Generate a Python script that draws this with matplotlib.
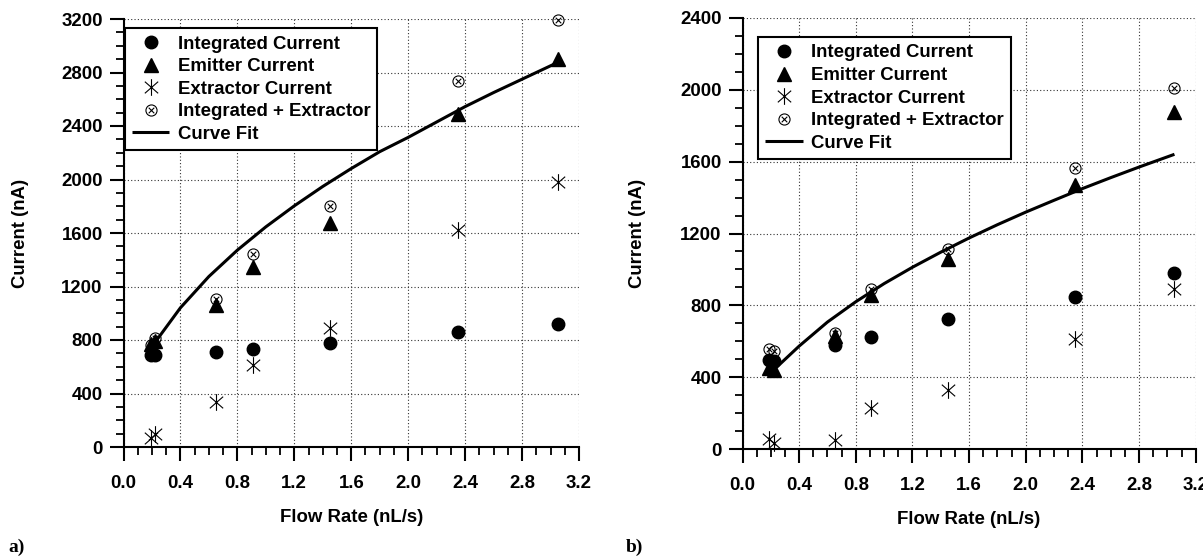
import matplotlib
matplotlib.use("Agg")
import matplotlib.pyplot as plt
from matplotlib.path import Path
from matplotlib.ticker import MultipleLocator

# ---------------- data ----------------
flow_a = [0.19, 0.22, 0.65, 0.91, 1.45, 2.35, 3.05]
integrated_a = [690, 690, 712, 730, 780, 862, 920]
emitter_a = [770, 790, 1062, 1345, 1675, 2490, 2900]
extractor_a = [65, 100, 338, 612, 893, 1620, 1980]
int_plus_ext_a = [765, 815, 1110, 1440, 1805, 2735, 3195]
fit_x_a = [0.22, 0.4, 0.6, 0.8, 1.0, 1.2, 1.4, 1.6, 1.8, 2.0, 2.2, 2.4, 2.6, 2.8, 3.05]
fit_y_a = [780, 1041, 1275, 1472, 1646, 1803, 1948, 2082, 2208, 2315, 2430, 2545, 2650, 2750, 2875]

flow_b = [0.19, 0.22, 0.65, 0.91, 1.45, 2.35, 3.05]
integrated_b = [496, 490, 578, 622, 726, 845, 980]
emitter_b = [450, 440, 628, 860, 1060, 1470, 1879]
extractor_b = [55, 35, 50, 230, 326, 613, 889]
int_plus_ext_b = [555, 545, 645, 891, 1111, 1563, 2010]
fit_x_b = [0.22, 0.4, 0.6, 0.8, 1.0, 1.2, 1.4, 1.6, 1.8, 2.0, 2.2, 2.4, 2.6, 2.8, 3.05]
fit_y_b = [440, 573, 707, 820, 921, 1012, 1096, 1175, 1249, 1319, 1385, 1450, 1511, 1570, 1641]

x_ticks_step = 0.4
y_ticks_step = 400
series_labels = ["Integrated Current", "Emitter Current", "Extractor Current",
                 "Integrated + Extractor", "Curve Fit"]
panel_labels = ["a)", "b)"]
x_label = "Flow Rate (nL/s)"
y_label = "Current (nA)"

# ---------------- style ----------------
plt.rcParams["font.family"] = ["Liberation Sans", "DejaVu Sans"]
plt.rcParams["font.weight"] = "bold"
plt.rcParams["axes.labelweight"] = "bold"
FS = 13.4

# custom markers
otimes = Path.make_compound_path(
    Path.unit_circle(),
    Path([(-0.5, -0.5), (0.5, 0.5), (-0.5, 0.5), (0.5, -0.5)],
         [Path.MOVETO, Path.LINETO, Path.MOVETO, Path.LINETO]))
ast = Path([(0, -1), (0, 1), (-0.8, -0.7), (0.8, 0.7), (-0.8, 0.7), (0.8, -0.7)],
           [Path.MOVETO, Path.LINETO, Path.MOVETO, Path.LINETO, Path.MOVETO, Path.LINETO])

W, H = 1203, 558
fig = plt.figure(figsize=(W / 100, H / 100), dpi=100)
axA = fig.add_axes([123.5 / W, (H - 447) / H, 455.5 / W, 428 / H])
axB = fig.add_axes([742.5 / W, (H - 449) / H, 453.2 / W, 431 / H])


def draw(ax, flow, integ, emit, extr, ipe, fx, fy, ymax, leg_anchor):
    ax.plot(flow, integ, linestyle="none", marker="o", ms=9, color="black",
            label=series_labels[0], clip_on=False, zorder=3)
    ax.plot(flow, emit, linestyle="none", marker="^", ms=10.5, color="black",
            label=series_labels[1], clip_on=False, zorder=3)
    ax.plot(flow, extr, linestyle="none", marker=ast, ms=12, color="black",
            mew=0.8, label=series_labels[2], clip_on=False, zorder=3)
    ax.plot(flow, ipe, linestyle="none", marker=otimes, ms=8, color="black",
            mfc="none", mew=0.8, label=series_labels[3], clip_on=False, zorder=3)
    ax.plot(fx, fy, color="black", lw=2.2, label=series_labels[4],
            solid_capstyle="butt", zorder=4)

    ax.set_xlim(0, 3.2)
    ax.set_ylim(0, ymax)
    ax.xaxis.set_major_locator(MultipleLocator(x_ticks_step))
    ax.xaxis.set_minor_locator(MultipleLocator(0.1))
    ax.yaxis.set_major_locator(MultipleLocator(y_ticks_step))
    ax.yaxis.set_minor_locator(MultipleLocator(100))
    for s in ("top", "right"):
        ax.spines[s].set_visible(False)
    for s in ("left", "bottom"):
        ax.spines[s].set_linewidth(1.5)
    ax.tick_params(which="major", direction="out", length=10, width=1.5,
                   labelsize=FS)
    ax.tick_params(which="minor", direction="out", length=5.5, width=1.3)
    ax.tick_params(axis="x", which="major", pad=10.5)
    ax.tick_params(axis="y", which="major", pad=5)
    ax.grid(True, which="major", linestyle=(0, (1, 2)), linewidth=0.8,
            color="#333333")
    ax.set_axisbelow(True)

    ax.set_xlabel(x_label, fontsize=FS, fontweight="bold")
    ax.set_ylabel(y_label, fontsize=FS, fontweight="bold")

    leg = ax.legend(loc="upper left", bbox_to_anchor=leg_anchor,
                    borderaxespad=0, frameon=True, fancybox=False,
                    edgecolor="black", framealpha=1, handlelength=2.0,
                    handletextpad=0.45, labelspacing=0.3, borderpad=0.38,
                    prop=dict(size=FS, weight="bold"))
    leg.get_frame().set_linewidth(1.5)
    leg.set_zorder(10)


draw(axA, flow_a, integrated_a, emitter_a, extractor_a, int_plus_ext_a,
     fit_x_a, fit_y_a, 3200, (0.003, 0.978))
draw(axB, flow_b, integrated_b, emitter_b, extractor_b, int_plus_ext_b,
     fit_x_b, fit_y_b, 2400, (0.035, 0.955))

# axis label positions (axes coordinates)
axA.xaxis.set_label_coords(0.5, (447 - 517) / 428)
axA.xaxis.label.set_va("center")
axA.yaxis.set_label_coords((21 - 123.5) / 455.5, 0.5)
axA.yaxis.label.set_va("center")
axB.xaxis.set_label_coords(0.5, (449 - 520) / 431)
axB.xaxis.label.set_va("center")
axB.yaxis.set_label_coords((638 - 742.5) / 453.2, 0.5)
axB.yaxis.label.set_va("center")

fig.text(8 / W, 1 - 547 / H, panel_labels[0], family=["Liberation Serif", "DejaVu Serif"],
         fontsize=14, fontweight="bold", ha="left", va="center")
fig.text(626 / W, 1 - 547 / H, panel_labels[1], family=["Liberation Serif", "DejaVu Serif"],
         fontsize=14, fontweight="bold", ha="left", va="center")

fig.savefig("out.png", dpi=100)
